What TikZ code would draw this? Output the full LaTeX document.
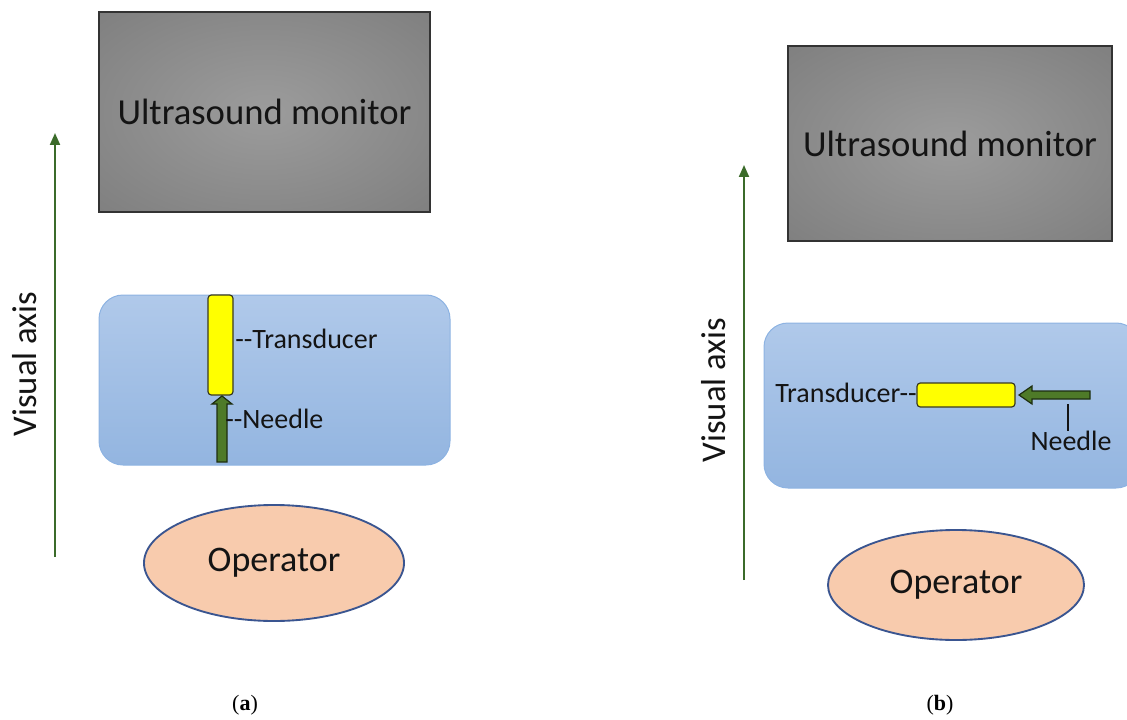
\documentclass[tikz,border=0pt]{standalone}
\usepackage{fontspec}
\setmainfont{Carlito}
\newfontfamily\capfont{Liberation Serif}
\usetikzlibrary{shapes.geometric,arrows.meta}
\definecolor{textc}{HTML}{141414}
\definecolor{moncenter}{HTML}{9C9C9C}
\definecolor{monedge}{HTML}{747474}
\definecolor{monborder}{HTML}{333333}
\definecolor{bluetop}{HTML}{B0C9EA}
\definecolor{bluebot}{HTML}{93B5E0}
\definecolor{blueborder}{HTML}{8DB3E2}
\definecolor{transfill}{HTML}{FFFF00}
\definecolor{transborder}{HTML}{3A3A20}
\definecolor{needlefill}{HTML}{4E7A28}
\definecolor{needleborder}{HTML}{1E2E10}
\definecolor{axisc}{HTML}{3B6B2A}
\definecolor{opfill}{HTML}{F8CBAD}
\definecolor{opborder}{HTML}{3A5590}
\pgfdeclareradialshading{monshade}{\pgfpoint{0bp}{0bp}}{color(0bp)=(moncenter); color(50bp)=(monedge)}
\begin{document}
\begin{tikzpicture}[x=0.75pt,y=-0.75pt,
  monitor/.style={draw=monborder, line width=0.9pt, shading=monshade, text=textc, font=\fontsize{27.5pt}{31pt}\selectfont},
  field/.style={draw=blueborder, line width=0.75pt, top color=bluetop, bottom color=bluebot, rounded corners=18pt},
  transducer/.style={draw=transborder, line width=0.9pt, fill=transfill, rounded corners=2.5pt},
  needle/.style={draw=needleborder, line width=0.9pt, fill=needlefill},
  operator/.style={ellipse, draw=opborder, line width=1.4pt, fill=opfill, text=textc, font=\fontsize{27pt}{30pt}\selectfont},
  lbl/.style={text=textc, inner sep=0pt, font=\fontsize{21pt}{24pt}\selectfont},
  axislbl/.style={text=textc, inner sep=0pt, rotate=90, font=\fontsize{26pt}{30pt}\selectfont},
  axis/.style={draw=axisc, line width=1.5pt, -{Triangle[length=9pt,width=7.5pt]}},
  tick/.style={draw=textc, line width=1.2pt},
  caption/.style={inner sep=0pt, font=\capfont\fontsize{16.5pt}{20pt}\selectfont}
]
\useasboundingbox (0,0) rectangle (1127,720);
\clip (0,0) rectangle (1127,720);

% ---------- (a) ----------
\node[monitor, minimum width=331*0.75pt, minimum height=200*0.75pt] (monA) at (264.5,112) {Ultrasound monitor};
\node[field, minimum width=351*0.75pt, minimum height=170*0.75pt] (fieldA) at (274.5,380) {};
\node[transducer, minimum width=25*0.75pt, minimum height=100*0.75pt, inner sep=0pt] (transA) at (220.5,345) {};
\filldraw[needle] (217,462) -- (217,404) -- (212,404) -- (222,396) -- (232,404) -- (227,404) -- (227,462) -- cycle;
\node[lbl, anchor=west] (tlabA) at (235,339) {-{}-Transducer};
\node[lbl, anchor=west] (nlabA) at (225,419) {-{}-Needle};
\node[operator, minimum width=260*0.75pt, minimum height=116*0.75pt] (opA) at (274,563) {Operator};
\coordinate (axA0) at (55,557);
\coordinate (axA1) at (55,133);
\draw[axis] (axA0) -- (axA1);
\node[axislbl] (vaA) at (25,364) {Visual axis};
\node[caption] (capA) at (245,705) {(\textbf{a})};

% ---------- (b) ----------
\node[monitor, minimum width=324*0.75pt, minimum height=195*0.75pt] (monB) at (950,143.5) {Ultrasound monitor};
\node[field, minimum width=376*0.75pt, minimum height=165*0.75pt] (fieldB) at (952,405.5) {};
\node[transducer, minimum width=98*0.75pt, minimum height=24*0.75pt, inner sep=0pt] (transB) at (966,395) {};
\filldraw[needle] (1090,391) -- (1032,391) -- (1032,386) -- (1019,395) -- (1032,404) -- (1032,399) -- (1090,399) -- cycle;
\node[lbl, anchor=east] (tlabB) at (917,393) {Transducer-{}-};
\node[lbl] (nlabB) at (1071,441) {Needle};
\coordinate (tickB) at (1068,404);
\draw[tick] (tickB) -- (tickB |- nlabB.north);
\node[operator, minimum width=256*0.75pt, minimum height=110*0.75pt] (opB) at (956,585) {Operator};
\coordinate (axB0) at (744,580);
\coordinate (axB1) at (744,165);
\draw[axis] (axB0) -- (axB1);
\node[axislbl] (vaB) at (714,390) {Visual axis};
\node[caption] (capB) at (940,705) {(\textbf{b})};
\end{tikzpicture}
\end{document}
